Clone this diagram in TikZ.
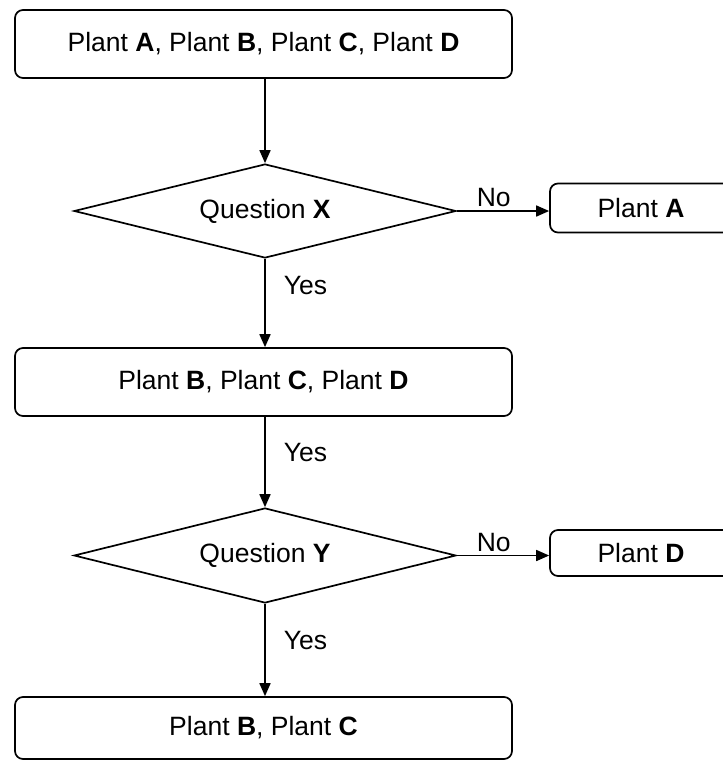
\documentclass[tikz,border=0pt]{standalone}
\usepackage{fontspec}
\setmainfont{Liberation Sans}
\usetikzlibrary{shapes.geometric,arrows.meta}
\begin{document}
\begin{tikzpicture}[x=1pt,y=-1pt,
  font=\fontsize{26.5}{30}\selectfont,
  line width=1.7pt,
  box/.style={draw,rounded corners=8pt,inner sep=0pt,minimum width=497pt},
  sidebox/.style={draw,rounded corners=8pt,inner sep=0pt,minimum width=182pt},
  decision/.style={draw,diamond,inner sep=0pt,aspect=4,minimum width=382pt,minimum height=94pt},
  arr/.style={-{Triangle[length=13pt,width=11pt]}},
  lbl/.style={inner sep=0pt}]
\useasboundingbox (0,0) rectangle (723,761);
\clip (0,0) rectangle (723,761);
\node[box,minimum height=68pt] (b1) at (263.5,44) {Plant \textbf{A}, Plant \textbf{B}, Plant \textbf{C}, Plant \textbf{D}};
\node[decision] (qx) at (265,211) {Question \textbf{X}};
\node[sidebox,minimum height=49pt] (pa) at (641,208) {Plant \textbf{A}};
\node[box,minimum height=68pt] (b2) at (263.5,382) {Plant \textbf{B}, Plant \textbf{C}, Plant \textbf{D}};
\node[decision,minimum height=95pt] (qy) at (265,555.5) {Question \textbf{Y}};
\node[sidebox,minimum height=46pt] (pd) at (641,553) {Plant \textbf{D}};
\node[box,minimum height=62pt] (b3) at (263.5,728) {Plant \textbf{B}, Plant \textbf{C}};

\draw[arr] (qx.north |- b1.south) -- (qx.north);
\draw[arr] (qx.east) -- (qx.east -| pa.west) node[lbl,pos=0.4,above=3pt] (n1) {No};
\draw[arr] (qx.south) -- (qx.south |- b2.north) node[lbl,pos=0.3,right=18pt] (y1) {Yes};
\draw[arr] (qy.north |- b2.south) -- (qy.north) node[lbl,pos=0.4,right=18pt] (y2) {Yes};
\draw[arr] (qy.east) -- (qy.east -| pd.west) node[lbl,pos=0.4,above=3pt] (n2) {No};
\draw[arr] (qy.south) -- (qy.south |- b3.north) node[lbl,pos=0.4,right=18pt] (y3) {Yes};
\end{tikzpicture}
\end{document}
